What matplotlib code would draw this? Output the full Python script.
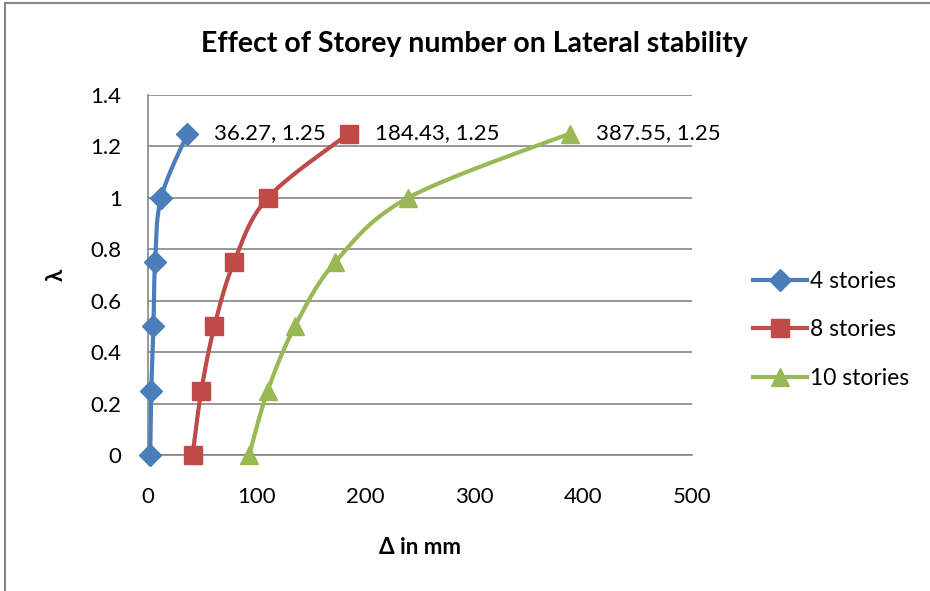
"""Effect of storey number on lateral stability (Excel-style smoothed scatter)."""

import matplotlib.pyplot as plt
import numpy as np
from matplotlib.patches import Rectangle

plt.rcParams["font.family"] = ["Lato", "DejaVu Sans"]

lam = [0, 0.25, 0.5, 0.75, 1.0, 1.25]
drift_4 = [2, 3, 5, 6.5, 12, 36.27]
drift_8 = [41, 49, 61, 79, 110, 184.43]
drift_10 = [93, 110, 135, 172, 239, 387.55]

series = [
    ("4 stories", drift_4, "#4A7EBB", "D", 11),
    ("8 stories", drift_8, "#BE4B48", "s", 12.5),
    ("10 stories", drift_10, "#98B954", "^", 13),
]


def smooth(x, y, n=30):
    """Catmull-Rom curve through the points, like Excel's smoothed line."""
    p = np.column_stack([x, y]).astype(float)
    p = np.vstack([p[0], p, p[-1]])
    out = []
    t = np.linspace(0, 1, n)[:, None]
    for i in range(1, len(p) - 2):
        p0, p1, p2, p3 = p[i - 1], p[i], p[i + 1], p[i + 2]
        seg = 0.5 * ((2 * p1) + (-p0 + p2) * t
                     + (2 * p0 - 5 * p1 + 4 * p2 - p3) * t ** 2
                     + (-p0 + 3 * p1 - 3 * p2 + p3) * t ** 3)
        out.append(seg)
    s = np.vstack(out)
    return s[:, 0], s[:, 1]


W, H = 930, 591
fig = plt.figure(figsize=(W / 100, H / 100), dpi=100)
ax = fig.add_axes([148 / W, 136 / H, 544 / W, 360 / H])

for label, xs, color, marker, ms in series:
    sx, sy = smooth(xs, lam)
    ax.plot(sx, sy, color=color, lw=3, zorder=3, clip_on=False)
    ax.plot(xs, lam, ls="none", marker=marker, ms=ms, color=color,
            zorder=4, clip_on=False)
    ax.plot([], [], color=color, lw=3, marker=marker, ms=ms, label=label)
    ax.annotate(f"{xs[-1]:.2f}, {lam[-1]}", (xs[-1], lam[-1]),
                xytext=(19, 0), textcoords="offset points",
                va="center", ha="left", fontsize=16)

ax.set_xlim(0, 500)
ax.set_ylim(0, 1.4)
ax.set_xticks(np.arange(0, 501, 100))
ax.set_yticks(np.arange(0, 1.41, 0.2))
ax.set_yticklabels(["0", "0.2", "0.4", "0.6", "0.8", "1", "1.2", "1.4"])
ax.grid(axis="y", color="#868686", lw=1.2)
ax.set_axisbelow(True)
for side in ["top", "right"]:
    ax.spines[side].set_visible(False)
for side in ["left", "bottom"]:
    ax.spines[side].set_color("#868686")
    ax.spines[side].set_linewidth(1.2)
ax.tick_params(length=0, labelsize=16)
ax.tick_params(axis="y", pad=19)
ax.tick_params(axis="x", pad=23)

fig.text(474 / W, 1 - 44 / H, "Effect of Storey number on Lateral stability",
         fontsize=20.5, fontweight="bold", ha="center", va="center")
fig.text(420 / W, 1 - 548 / H, "Δ in mm", fontsize=16, fontweight="bold",
         ha="center", va="center")
fig.text(56 / W, 1 - 275 / H, "λ", fontsize=16, fontweight="bold",
         ha="center", va="center", rotation=90)

fig.legend(loc="center left", bbox_to_anchor=(753 / W, 1 - 330 / H),
           frameon=False, fontsize=16.5, handlelength=2.35,
           labelspacing=1.18, handletextpad=0.15, borderaxespad=0,
           borderpad=0)

fig.patches.append(Rectangle((5 / W, -0.1), 1.2, 1.1 - 3 / H,
                             transform=fig.transFigure, fill=False,
                             edgecolor="#868686", lw=1.5))

fig.savefig("out.png", dpi=100)
